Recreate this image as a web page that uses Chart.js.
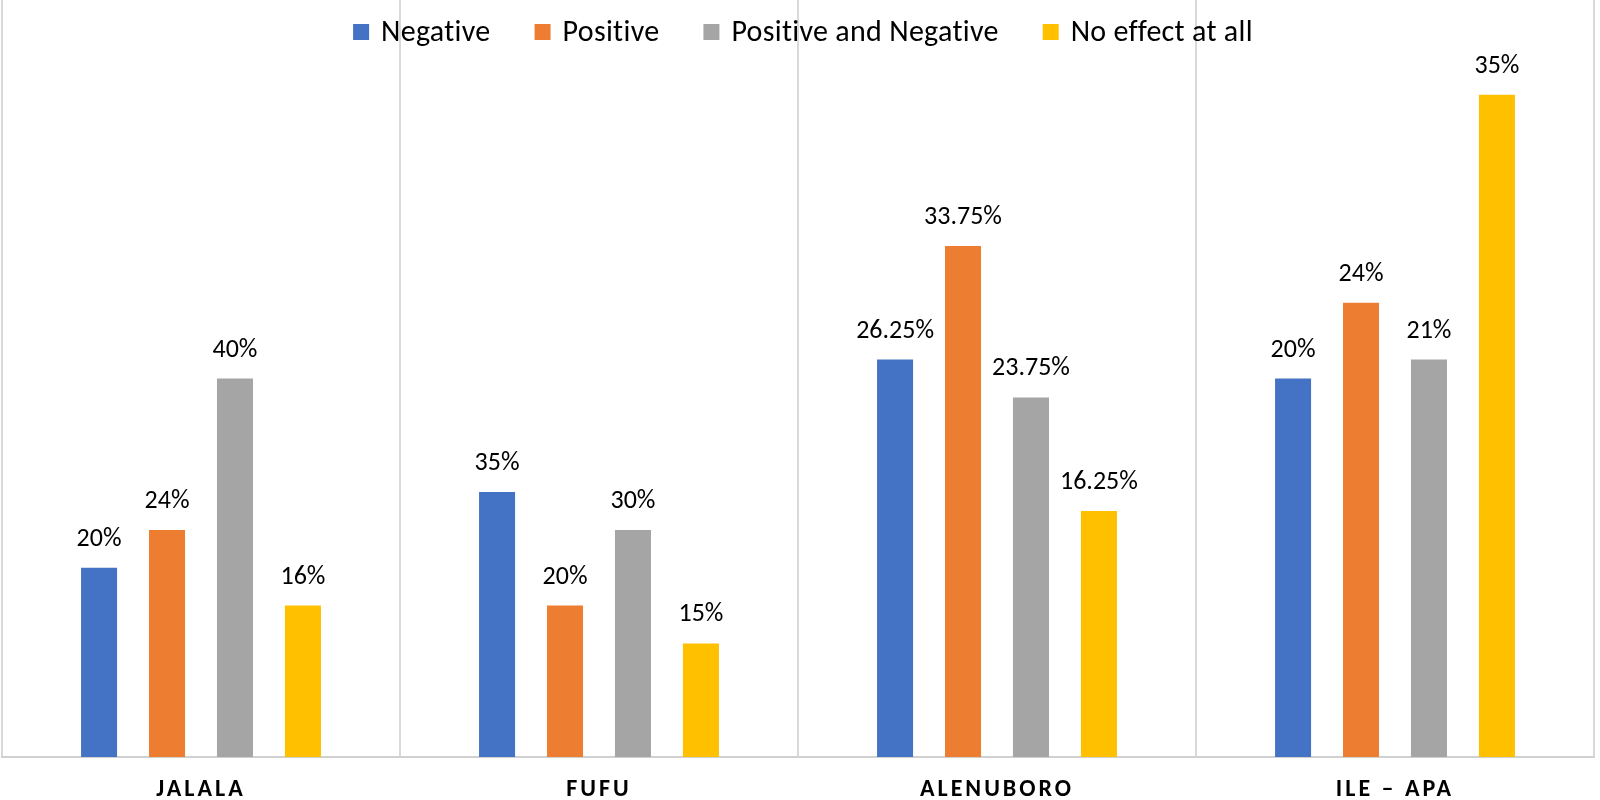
<!DOCTYPE html>
<html>
<head>
<meta charset="utf-8">
<script src="https://cdn.jsdelivr.net/npm/chart.js@4/dist/chart.umd.min.js"></script>
<style>
html,body{margin:0;padding:0;background:#fff;}
#wrap{width:1600px;height:800px;position:relative;}
</style>
</head>
<body>
<div id="wrap"><canvas id="c" width="1600" height="800"></canvas></div>
<script>
// Categories (x-axis labels)
const categories = ['JALALA', 'FUFU', 'ALENUBORO', 'ILE – APA'];
// Series names
const seriesNames = ['Negative', 'Positive', 'Positive and Negative', 'No effect at all'];
// Bar values (respondent counts, bar heights)
const negativeValues = [20, 28, 42, 40];
const positiveValues = [24, 16, 54, 48];
const posNegValues = [40, 24, 38, 42];
const noEffectValues = [16, 12, 26, 70];
// Data labels shown above bars (percentages)
const negativeLabels = ['20%', '35%', '26.25%', '20%'];
const positiveLabels = ['24%', '20%', '33.75%', '24%'];
const posNegLabels = ['40%', '30%', '23.75%', '21%'];
const noEffectLabels = ['16%', '15%', '16.25%', '35%'];

const colors = ['#4472C4', '#ED7D31', '#A5A5A5', '#FFC000'];
const FONT = 'Carlito, Calibri, Lato, sans-serif';

const valueSets = [negativeValues, positiveValues, posNegValues, noEffectValues];
const labelSets = [negativeLabels, positiveLabels, posNegLabels, noEffectLabels];

const datasets = seriesNames.map((name, i) => ({
  label: name,
  data: valueSets[i],
  pctLabels: labelSets[i],
  backgroundColor: colors[i],
  borderWidth: 0,
  categoryPercentage: 0.683,
  barPercentage: 0.53
}));

const letterSpacingPlugin = {
  id: 'letterSpacing',
  beforeDraw(chart) { chart.ctx.letterSpacing = '3px'; },
  beforeDatasetsDraw(chart) { chart.ctx.letterSpacing = '0px'; }
};

const dataLabelPlugin = {
  id: 'pctLabels',
  afterDatasetsDraw(chart) {
    const ctx = chart.ctx;
    ctx.save();
    ctx.font = '26px ' + FONT;
    ctx.fillStyle = '#000';
    ctx.textAlign = 'center';
    ctx.textBaseline = 'alphabetic';
    chart.data.datasets.forEach((ds, di) => {
      const meta = chart.getDatasetMeta(di);
      meta.data.forEach((bar, j) => {
        ctx.fillText(ds.pctLabels[j], bar.x, bar.y - 22);
      });
    });
    ctx.restore();
  }
};

const legendPlugin = {
  id: 'topLegend',
  afterDraw(chart) {
    const ctx = chart.ctx;
    ctx.save();
    ctx.font = '30px ' + FONT;
    ctx.letterSpacing = '0.3px';
    ctx.textBaseline = 'middle';
    ctx.textAlign = 'left';
    const box = 16, boxGap = 12, itemGap = 44;
    const items = chart.data.datasets.map(ds => ({ text: ds.label, color: ds.backgroundColor, w: ctx.measureText(ds.label).width }));
    let total = 0;
    items.forEach((it, i) => { total += box + boxGap + it.w + (i < items.length - 1 ? itemGap : 0); });
    let x = 803 - total / 2;
    const y = 32;
    items.forEach(it => {
      ctx.fillStyle = it.color;
      ctx.fillRect(x, y - box / 2, box, box);
      x += box + boxGap;
      ctx.fillStyle = '#000';
      ctx.fillText(it.text, x, y + 1);
      x += it.w + itemGap;
    });
    ctx.restore();
  }
};

new Chart(document.getElementById('c'), {
  type: 'bar',
  data: { labels: categories, datasets },
  options: {
    responsive: false,
    animation: false,
    layout: { padding: { left: 2, right: 6, top: 0, bottom: 0 } },
    plugins: { legend: { display: false }, tooltip: { enabled: false } },
    scales: {
      x: {
        offset: true,
        grid: { offset: true, color: '#D9D9D9', lineWidth: 2, drawTicks: false },
        border: { display: true, color: '#D0D0D0', width: 2 },
        ticks: { color: '#000', font: { family: FONT, size: 24, weight: 'bold' }, padding: 19 },
        afterFit(scale) { scale.height = 43; }
      },
      y: {
        display: false,
        min: 0,
        max: 80
      }
    }
  },
  plugins: [letterSpacingPlugin, dataLabelPlugin, legendPlugin]
});
</script>
</body>
</html>
